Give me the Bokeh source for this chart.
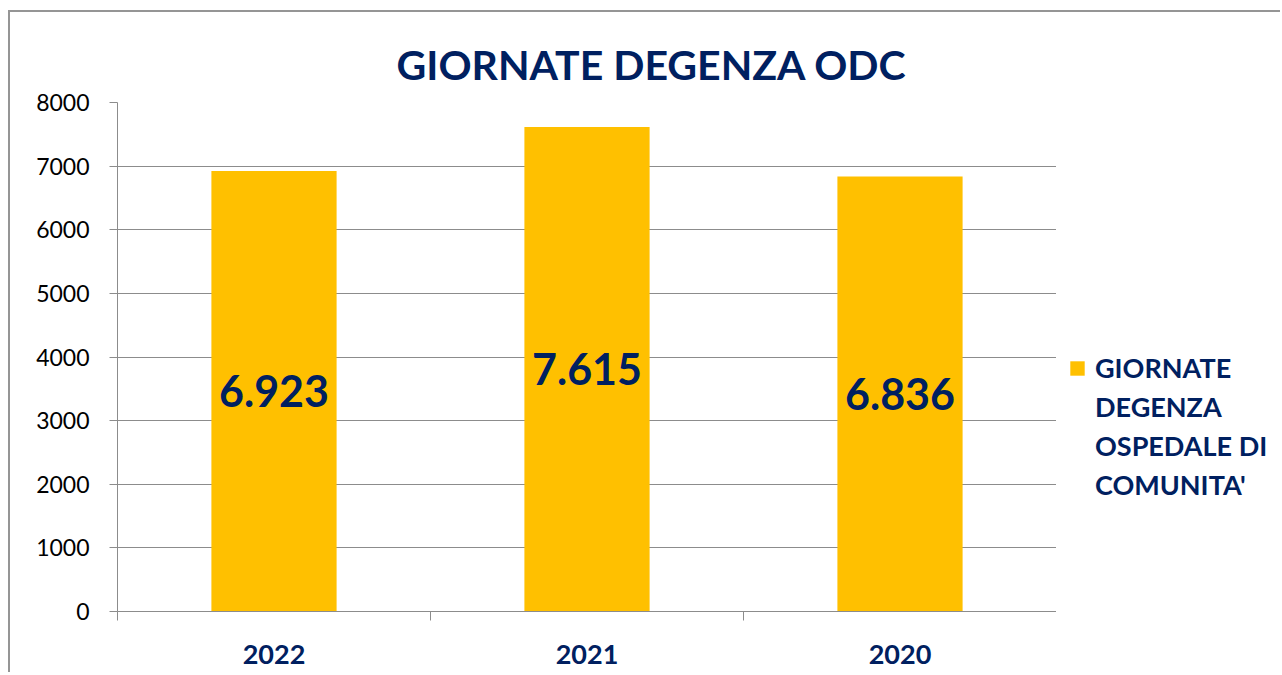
from bokeh.plotting import figure
from bokeh.layouts import row
from bokeh.models import FixedTicker, ColumnDataSource, Legend, LegendItem
from bokeh.core.properties import value
from bokeh.embed import file_html
from bokeh.resources import INLINE

# ---- data ----
years = ["2022", "2021", "2020"]
giornate = [6923, 7615, 6836]
y_ticks = [0, 1000, 2000, 3000, 4000, 5000, 6000, 7000, 8000]
title_text = "GIORNATE DEGENZA ODC"
legend_lines = ["GIORNATE", "DEGENZA", "OSPEDALE DI", "COMUNITA'"]

NAVY = "#002060"
GOLD = "#FFC000"
GREY = "#8c8c8c"
FONT = "Lato"

xpos = [i + 0.5 for i in range(len(years))]
labels = [f"{v:,}".replace(",", ".") for v in giornate]
src = ColumnDataSource(dict(x=xpos, top=giornate, mid=[v / 2 for v in giornate], lab=labels))

p = figure(width=1046, height=660, x_range=(0, len(years)), y_range=(0, 8000),
           output_backend="svg", toolbar_location=None,
           min_border_left=107, min_border_right=0, min_border_top=90, min_border_bottom=61)
p.outline_line_color = None

p.title.text = title_text
p.title.text_font = FONT
p.title.text_font_size = "41px"
p.title.text_font_style = "bold"
p.title.text_color = NAVY
p.title.align = "left"
p.title.offset = 279
p.title.standoff = 27

bars = p.vbar(x="x", top="top", width=0.4, source=src, fill_color=GOLD, line_color=None)
p.text(x="x", y="mid", text="lab", source=src, text_align="center", text_baseline="middle",
       text_font=value(FONT), text_font_size="43px", text_font_style="bold", text_color=NAVY)

# y axis
p.yaxis.ticker = FixedTicker(ticks=y_ticks)
p.yaxis.major_tick_out = 8
p.yaxis.major_tick_in = 0
p.yaxis.minor_tick_out = 0
p.yaxis.minor_tick_in = 0
p.yaxis.axis_line_color = GREY
p.yaxis.major_tick_line_color = GREY
p.yaxis.major_label_text_font = FONT
p.yaxis.major_label_text_font_size = "23px"
p.yaxis.major_label_text_color = "black"
p.yaxis.major_label_standoff = 20

# x axis
p.xaxis.ticker = FixedTicker(ticks=xpos, minor_ticks=list(range(len(years) + 1)))
p.xaxis.major_label_overrides = {x: y for x, y in zip(xpos, years)}
p.xaxis.major_tick_out = 0
p.xaxis.major_tick_in = 0
p.xaxis.minor_tick_out = 9
p.xaxis.minor_tick_in = 0
p.xaxis.minor_tick_line_color = GREY
p.xaxis.axis_line_color = GREY
p.xaxis.major_label_text_font = FONT
p.xaxis.major_label_text_font_size = "27px"
p.xaxis.major_label_text_font_style = "bold"
p.xaxis.major_label_text_color = NAVY
p.xaxis.major_label_standoff = 24

p.xgrid.visible = False
p.ygrid.ticker = FixedTicker(ticks=y_ticks)
p.ygrid.grid_line_color = GREY
p.ygrid.grid_line_width = 1

# legend panel (separate small figure to the right of the plot area)
lf = figure(width=224, height=660, output_backend="svg", toolbar_location=None,
            x_axis_type=None, y_axis_type=None, min_border=0)
lf.outline_line_color = None
lf.grid.visible = False
# zero-height proxy bar: invisible in the panel, but gives the legend its gold swatch
swatch = lf.vbar(x=[0], top=[0], bottom=[0], width=0.4, fill_color=GOLD, line_color=None)
ghost = lf.vbar(x=[0], top=[0], bottom=[0], width=0.4, fill_alpha=0, line_alpha=0)
items = [LegendItem(label=legend_lines[0], renderers=[swatch])]
items += [LegendItem(label=t, renderers=[ghost]) for t in legend_lines[1:]]
legend = Legend(items=items, location=(12, 107), border_line_color=None,
                background_fill_alpha=0, padding=0, margin=0, spacing=0,
                glyph_width=18, glyph_height=18, label_height=39, label_standoff=9,
                label_text_font=FONT, label_text_font_size="27px", label_text_font_style="bold",
                label_text_color=NAVY, label_text_baseline="middle")
lf.add_layout(legend, "center")

layout = row(p, lf, spacing=0)
layout.styles = {"margin-left": "8px", "margin-top": "10px",
                 "border-top": "2px solid #959595", "border-left": "2px solid #959595"}

open("out.html", "w").write(file_html(layout, INLINE))
